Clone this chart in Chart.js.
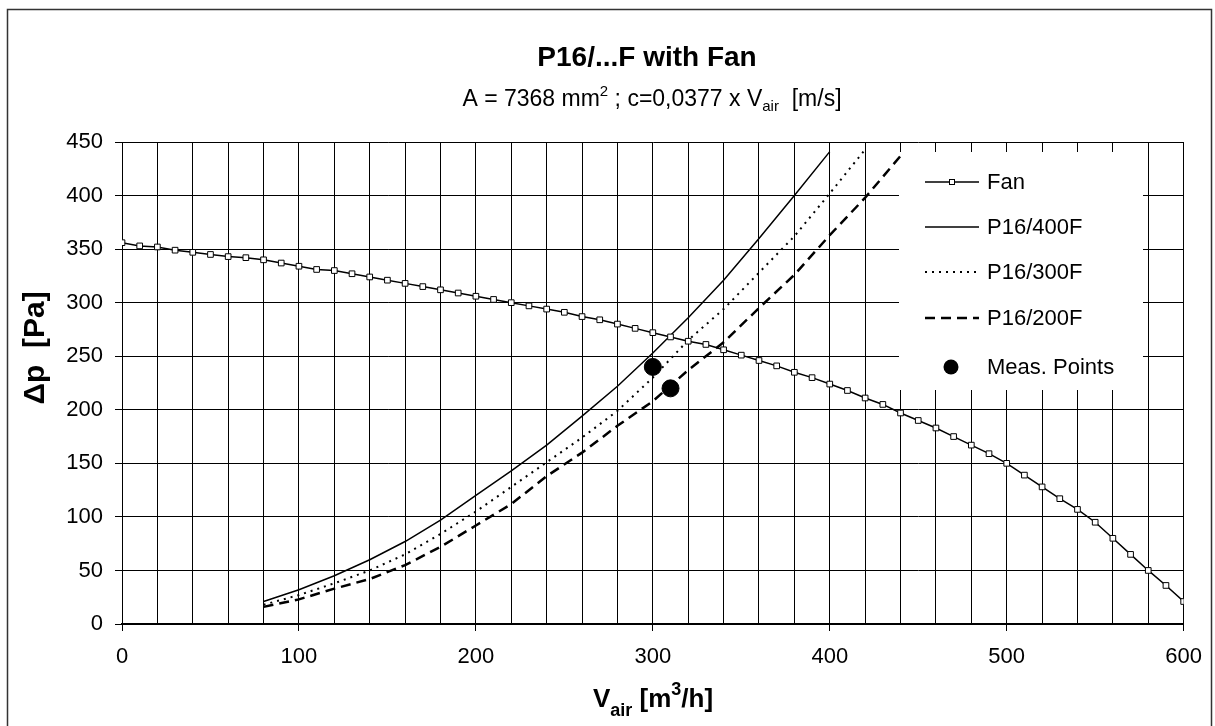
<!DOCTYPE html>
<html>
<head>
<meta charset="utf-8">
<script src="https://cdn.jsdelivr.net/npm/chart.js@4.4.1/dist/chart.umd.min.js"></script>
<style>
  html, body { margin: 0; padding: 0; background: #fff; }
  #wrap { position: relative; width: 1215px; height: 726px; }
</style>
</head>
<body>
<div id="wrap"><canvas id="fanChart" width="1215" height="726"></canvas></div>
<script>
/* ---------------- data ---------------- */

// Fan curve, V_air [m3/h] / delta p [Pa]
const fanFlow = [0, 10, 20, 30, 40, 50, 60, 70, 80, 90, 100, 110, 120, 130, 140, 150, 160, 170, 180, 190,
                 200, 210, 220, 230, 240, 250, 260, 270, 280, 290, 300, 310, 320, 330, 340, 350, 360, 370, 380, 390,
                 400, 410, 420, 430, 440, 450, 460, 470, 480, 490, 500, 510, 520, 530, 540, 550, 560, 570, 580, 590, 600];
const fanPressure = [356, 353, 352, 349, 347, 345, 343, 342, 340, 337, 334, 331, 330, 327, 324, 321, 318, 315, 312, 309,
                     306, 303, 300, 297, 294, 291, 287, 284, 280, 276, 272, 268, 264, 261, 256, 251, 246, 241, 235, 230,
                     224, 218, 211, 205, 197, 190, 183, 175, 167, 159, 150, 139, 128, 117, 107, 95, 80, 65, 50, 36, 21];

// System curves of the three filters
const flow400 = [80, 100, 120, 140, 160, 180, 200, 220, 240, 260, 280, 300, 320, 340, 360, 380, 400];
const dp400   = [21, 32, 45, 60, 77, 97, 120, 143, 167, 194, 222, 253, 286, 321, 360, 400, 441];

const flow300 = [80, 100, 120, 140, 160, 180, 200, 220, 240, 260, 280, 300, 320, 340, 360, 380, 400, 420];
const dp300   = [18, 27, 38, 50, 65, 84, 105, 128, 151, 174, 199, 230, 265, 294, 328, 362, 402, 443];

const flow200 = [80, 100, 120, 140, 160, 180, 200, 220, 240, 260, 280, 300, 320, 340, 360, 380, 400, 420, 440];
const dp200   = [16, 23, 33, 42, 55, 72, 92, 112, 138, 160, 185, 208, 237, 263, 295, 326, 363, 398, 437];

// Measured operating points
const measFlow = [300, 310];
const measDp   = [240, 220];

const seriesLabels = ["Fan", "P16/400F", "P16/300F", "P16/200F", "Meas. Points"];

/* ---------------- helpers ---------------- */

const FONT = "'Liberation Sans', Arial, Helvetica, sans-serif";

function toPoints(xs, ys) {
    return xs.map((x, i) => ({ x: x, y: ys[i] }));
}

// draws a line of text made of runs (for sub- and superscripts)
function drawRuns(ctx, runs, cx, baseY) {
    let total = 0;
    runs.forEach(r => {
        ctx.font = r.font;
        r.w = ctx.measureText(r.text).width;
        total += r.w;
    });
    let x = cx - total / 2;
    ctx.textAlign = "left";
    ctx.textBaseline = "alphabetic";
    ctx.fillStyle = "#000";
    runs.forEach(r => {
        ctx.font = r.font;
        ctx.fillText(r.text, x, baseY + (r.dy || 0));
        x += r.w;
    });
}

/* ---------------- plugins ---------------- */

// white background + outer frame
const framePlugin = {
    id: "frame",
    beforeDraw(chart) {
        const ctx = chart.ctx;
        ctx.save();
        ctx.fillStyle = "#fff";
        ctx.fillRect(0, 0, chart.width, chart.height);
        ctx.strokeStyle = "#333";
        ctx.lineWidth = 1.5;
        ctx.strokeRect(7.5, 9.5, 1204, 740);
        ctx.restore();
    }
};

// titles and axis labels
const textPlugin = {
    id: "texts",
    afterDraw(chart) {
        const ctx = chart.ctx;
        ctx.save();
        drawRuns(ctx, [{ text: "P16/...F with Fan", font: "bold 28px " + FONT }], 647, 66);
        drawRuns(ctx, [
            { text: "A = 7368 mm", font: "23px " + FONT },
            { text: "2", font: "15px " + FONT, dy: -10 },
            { text: " ; c=0,0377 x V", font: "23px " + FONT },
            { text: "air", font: "15px " + FONT, dy: 5 },
            { text: "  [m/s]", font: "23px " + FONT }
        ], 652, 106);
        drawRuns(ctx, [
            { text: "V", font: "bold 26px " + FONT },
            { text: "air", font: "bold 18px " + FONT, dy: 9 },
            { text: " [m", font: "bold 26px " + FONT },
            { text: "3", font: "bold 18px " + FONT, dy: -12 },
            { text: "/h]", font: "bold 26px " + FONT }
        ], 653, 707);

        // y axis title, rotated
        ctx.translate(36, 348);
        ctx.rotate(-Math.PI / 2);
        ctx.font = "bold 30px " + FONT;
        ctx.textAlign = "center";
        ctx.textBaseline = "middle";
        ctx.fillStyle = "#000";
        ctx.fillText("\u0394p  [Pa]", 0, 0);
        ctx.restore();
    }
};

// legend inside the plot, white box without border
const legendBox = { x: 899, y: 152, w: 244, h: 238 };
const legendRows = [182, 227, 272, 318, 367];

const legendPlugin = {
    id: "innerLegend",
    beforeDatasetsDraw(chart) {
        const ctx = chart.ctx;
        ctx.save();
        ctx.fillStyle = "#fff";
        ctx.fillRect(legendBox.x, legendBox.y, legendBox.w, legendBox.h);
        ctx.restore();
    },
    afterDatasetsDraw(chart) {
        const ctx = chart.ctx;
        const x0 = 925, x1 = 979;
        ctx.save();
        chart.data.datasets.forEach((ds, i) => {
            const y = legendRows[i];
            ctx.strokeStyle = "#000";
            ctx.fillStyle = "#000";
            if (ds.showLine !== false) {
                ctx.lineWidth = ds.borderWidth;
                ctx.setLineDash(ds.borderDash || []);
                ctx.beginPath();
                ctx.moveTo(x0, y);
                ctx.lineTo(x1, y);
                ctx.stroke();
                ctx.setLineDash([]);
                if (ds.pointRadius > 0) {
                    ctx.fillStyle = "#fff";
                    ctx.lineWidth = 1;
                    ctx.fillRect(949, y - 3, 6, 6);
                    ctx.strokeRect(949.5, y - 2.5, 5, 5);
                }
            } else {
                ctx.beginPath();
                ctx.arc(951, y, 7.5, 0, Math.PI * 2);
                ctx.fill();
            }
            ctx.fillStyle = "#000";
            ctx.font = "22px " + FONT;
            ctx.textAlign = "left";
            ctx.textBaseline = "middle";
            ctx.fillText(ds.label, 987, y + 1);
        });
        ctx.restore();
    }
};

/* ---------------- chart ---------------- */

const ctx = document.getElementById("fanChart").getContext("2d");

new Chart(ctx, {
    type: "line",
    data: {
        datasets: [
            {
                label: seriesLabels[0],
                data: toPoints(fanFlow, fanPressure),
                borderColor: "#000",
                borderWidth: 1.5,
                pointStyle: "rect",
                pointRadius: 4,
                pointBackgroundColor: "#fff",
                pointBorderColor: "#000",
                pointBorderWidth: 1
            },
            {
                label: seriesLabels[1],
                data: toPoints(flow400, dp400),
                borderColor: "#000",
                borderWidth: 1.5,
                pointRadius: 0
            },
            {
                label: seriesLabels[2],
                data: toPoints(flow300, dp300),
                borderColor: "#000",
                borderWidth: 2,
                borderDash: [2, 5],
                pointRadius: 0
            },
            {
                label: seriesLabels[3],
                data: toPoints(flow200, dp200),
                borderColor: "#000",
                borderWidth: 2.5,
                borderDash: [10, 6],
                pointRadius: 0
            },
            {
                label: seriesLabels[4],
                data: toPoints(measFlow, measDp),
                showLine: false,
                pointStyle: "circle",
                pointRadius: 8.5,
                pointBackgroundColor: "#000",
                pointBorderColor: "#000"
            }
        ]
    },
    options: {
        responsive: false,
        devicePixelRatio: 1,
        animation: false,
        events: [],
        layout: { padding: { left: 0, right: 31, top: 142, bottom: 42 } },
        plugins: {
            legend: { display: false },
            tooltip: { enabled: false },
            title: { display: false }
        },
        scales: {
            x: {
                type: "linear",
                min: 0,
                max: 600,
                afterFit(scale) { scale.height = 60; },
                ticks: {
                    stepSize: 20,
                    autoSkip: false,
                    maxRotation: 0,
                    padding: 13,
                    color: "#000",
                    font: { family: FONT, size: 22 },
                    callback: v => (v % 100 === 0 ? v : "")
                },
                grid: {
                    color: "#000",
                    lineWidth: 1,
                    tickLength: 7,
                    tickColor: c => (c.tick && c.tick.value % 100 === 0 ? "#000" : "rgba(0,0,0,0)")
                },
                border: { display: true, color: "#000", width: 2 }
            },
            y: {
                min: 0,
                max: 450,
                afterFit(scale) { scale.width = 122; },
                ticks: {
                    stepSize: 50,
                    padding: 12,
                    color: "#000",
                    font: { family: FONT, size: 22 }
                },
                grid: { color: "#000", lineWidth: 1, tickLength: 7 },
                border: { display: true, color: "#000", width: 1 }
            }
        }
    },
    plugins: [framePlugin, legendPlugin, textPlugin]
});
</script>
</body>
</html>
